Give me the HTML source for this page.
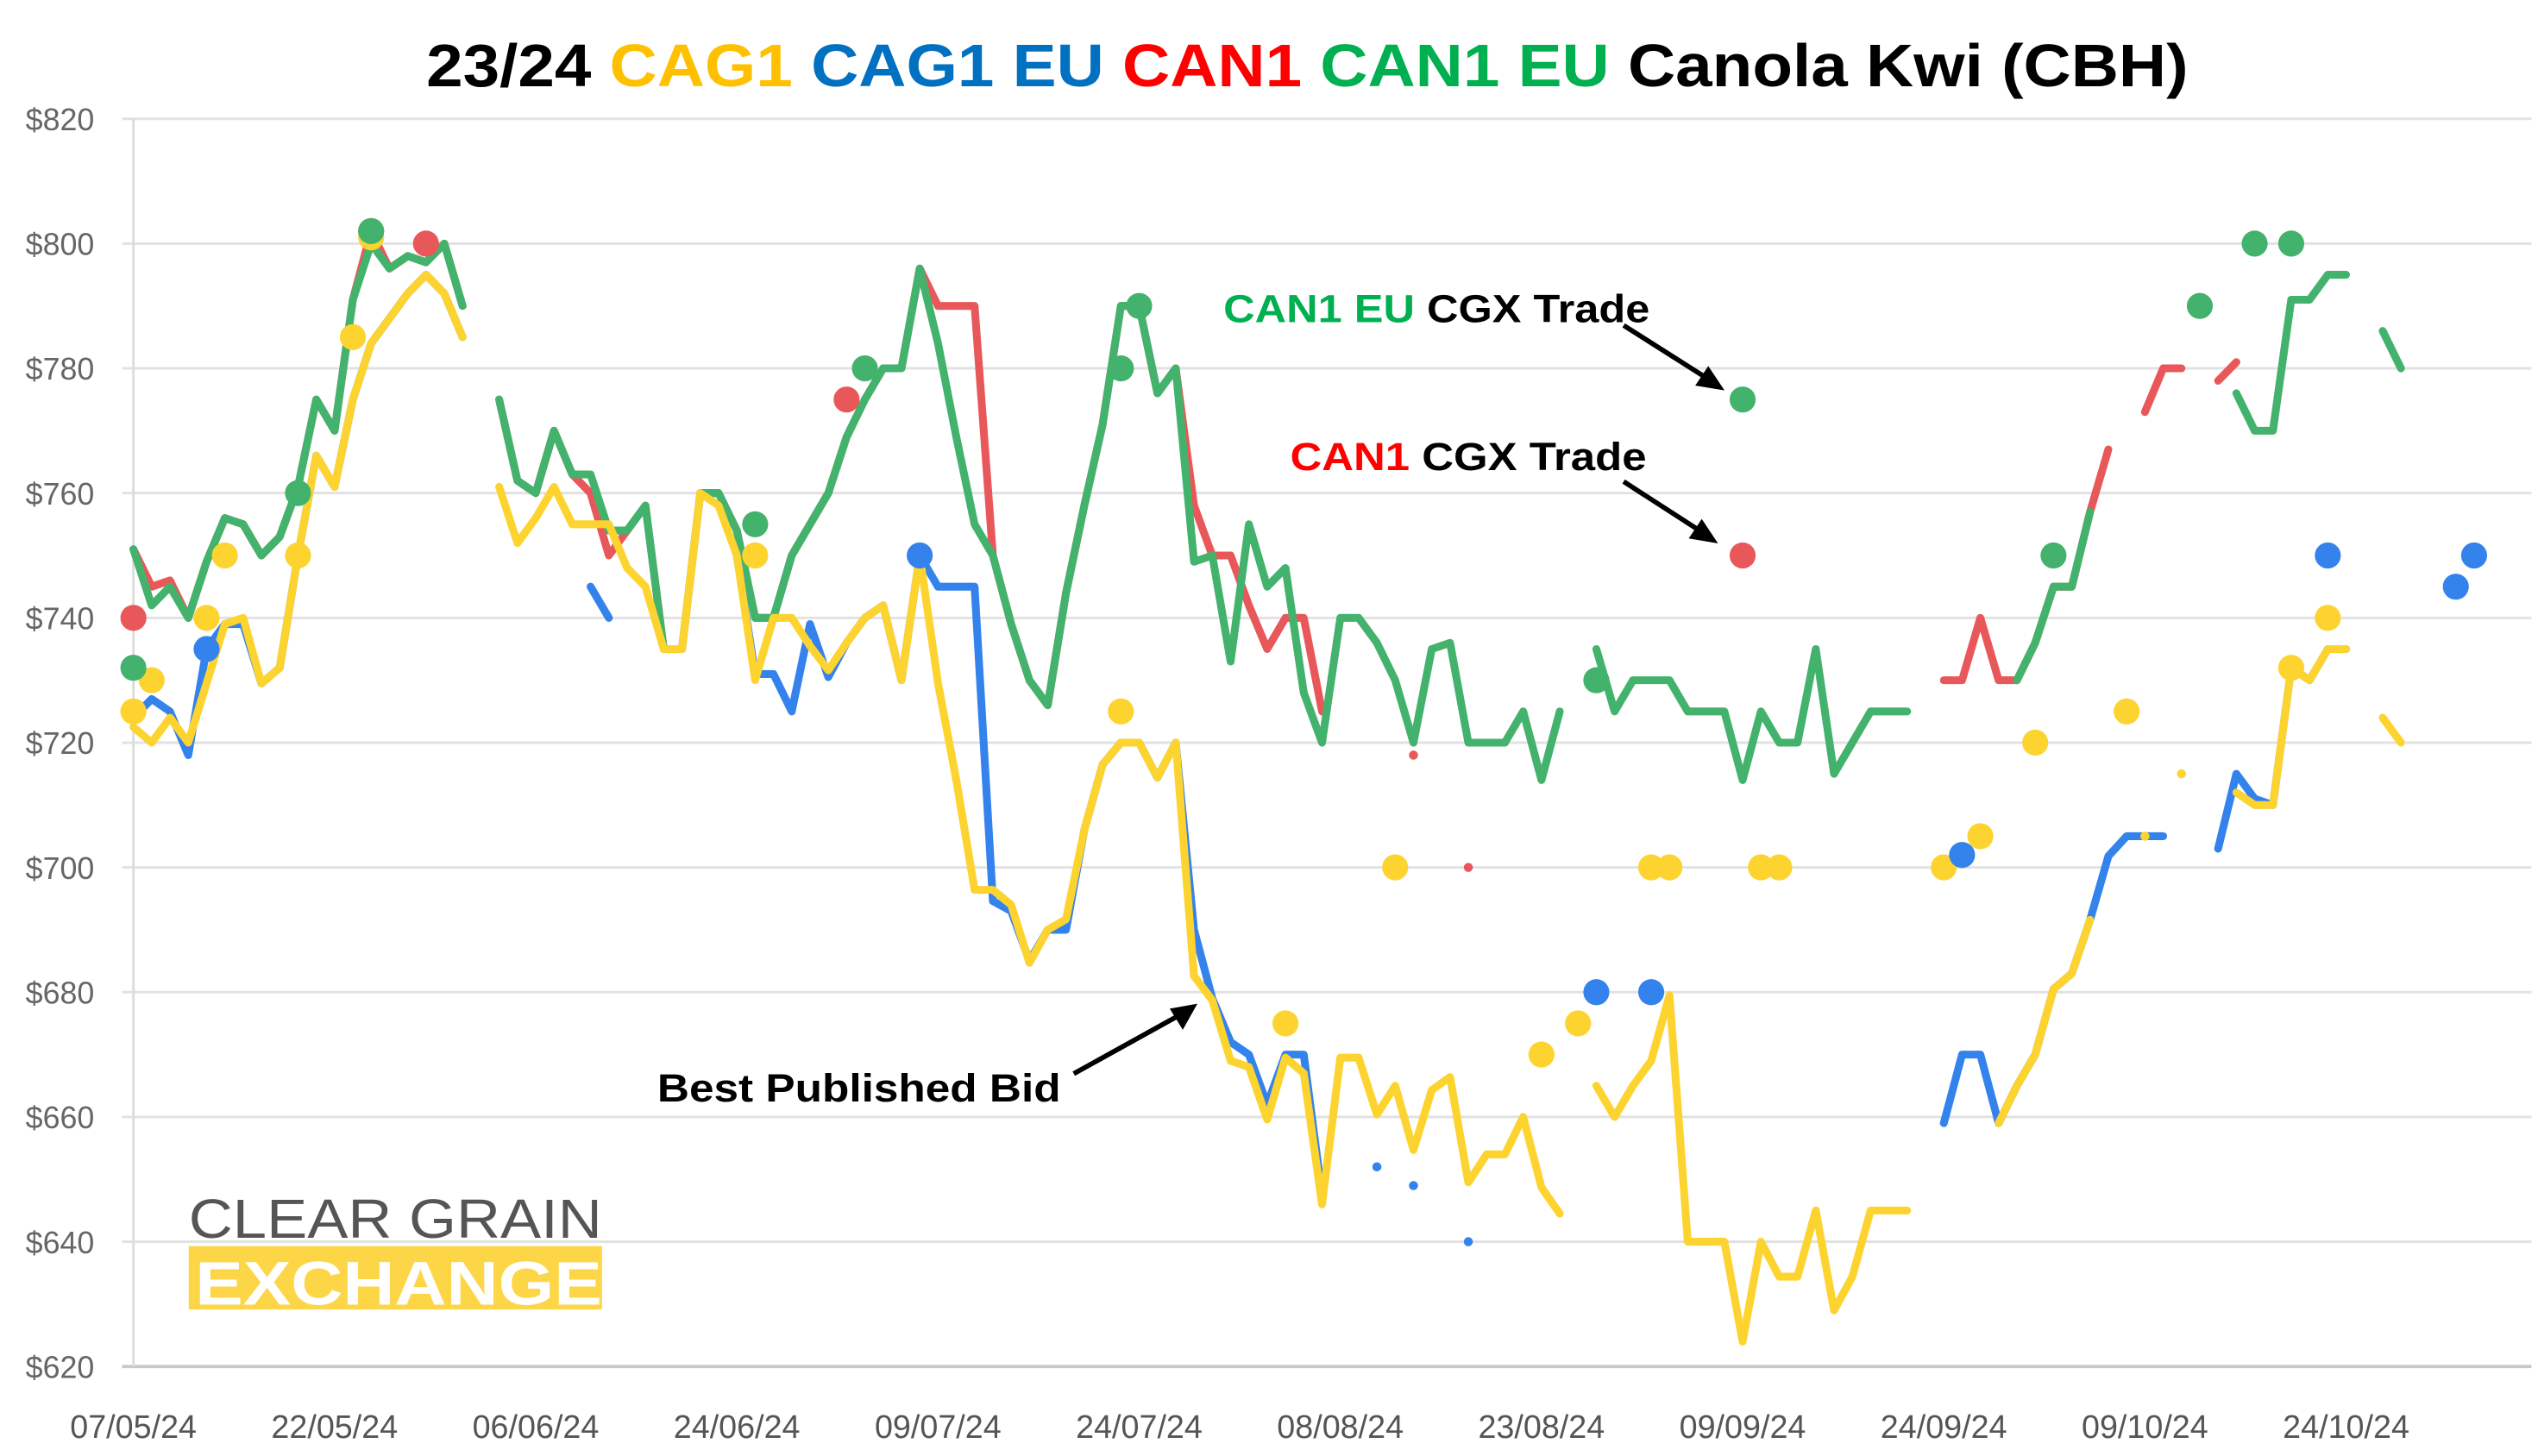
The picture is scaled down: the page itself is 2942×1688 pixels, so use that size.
<!DOCTYPE html>
<html><head><meta charset="utf-8">
<style>
html,body{margin:0;padding:0;background:#fff;}
svg{display:block;}
</style></head>
<body>
<svg id="chart" xmlns="http://www.w3.org/2000/svg" width="2942" height="1688" viewBox="0 0 1560 895" font-family="'Liberation Sans', sans-serif">
<rect x="0" y="0" width="1560" height="895" fill="#fff"/>
<text x="262" y="53" font-size="37" font-weight="bold" textLength="1083" lengthAdjust="spacingAndGlyphs"><tspan fill="#000">23/24 </tspan><tspan fill="#ffc000">CAG1 </tspan><tspan fill="#0070c0">CAG1 EU </tspan><tspan fill="#ff0000">CAN1 </tspan><tspan fill="#00b050">CAN1 EU </tspan><tspan fill="#000">Canola Kwi (CBH)</tspan></text>
<g id="grid"></g>
<g id="xlabels"></g>
<g id="lines"></g>
<g id="dots"></g>
<g>
<text x="752" y="198" font-size="24" font-weight="bold" textLength="262" lengthAdjust="spacingAndGlyphs"><tspan fill="#00b050">CAN1 EU </tspan><tspan fill="#000">CGX Trade</tspan></text>
<line x1="998" y1="200" x2="1050" y2="233" stroke="#000" stroke-width="3"/>
<polygon points="1060,240 1042,237 1050,225" fill="#000"/>
</g>
<g>
<text x="793" y="289" font-size="24" font-weight="bold" textLength="219" lengthAdjust="spacingAndGlyphs"><tspan fill="#ff0000">CAN1 </tspan><tspan fill="#000">CGX Trade</tspan></text>
<line x1="998" y1="296" x2="1046" y2="327" stroke="#000" stroke-width="3"/>
<polygon points="1056,334 1038,331 1046,319" fill="#000"/>
</g>
<g>
<text x="404" y="677" font-size="24" font-weight="bold" fill="#000" textLength="248" lengthAdjust="spacingAndGlyphs">Best Published Bid</text>
<line x1="660" y1="660" x2="725" y2="624" stroke="#000" stroke-width="3"/>
<polygon points="736,617 727,633 719,620" fill="#000"/>
</g>
<g>
<text x="116" y="761" font-size="34" fill="#555" textLength="254" lengthAdjust="spacingAndGlyphs">CLEAR GRAIN</text>
<rect x="116" y="766" width="254" height="39" fill="#fdd648"/>
<text x="120" y="802" font-size="38" font-weight="bold" fill="#fff" textLength="250" lengthAdjust="spacingAndGlyphs">EXCHANGE</text>
</g>
</svg>
<script>
const yTicks = [620, 640, 660, 680, 700, 720, 740, 760, 780, 800, 820];
const dateLabels = ["07/05/24","22/05/24","06/06/24","24/06/24","09/07/24","24/07/24","08/08/24","23/08/24","09/09/24","24/09/24","09/10/24","24/10/24"];
const dateIdx = [0, 11, 22, 33, 44, 55, 66, 77, 88, 99, 110, 121];
const _ = null;
const can1eu = [751,742,745,740,749,756,755,750,753,761,775,770,791,800,796,798,797,800,790,_,775,762,760,770,763,763,754,754,758,735,735,760,760,754,740,740,750,755,760,769,775,780,780,796,784,769,755,750,739,730,726,744,758,771,790,790,776,780,749,750,733,755,745,748,728,720,740,740,736,730,720,735,736,720,720,720,725,714,725,_,735,725,730,730,730,725,725,725,714,725,720,720,735,715,720,725,725,725,_,_,_,_,_,730,736,745,745,757,_,_,_,_,_,_,_,776,770,770,791,791,795,795,_,786,780,_,_,_,_];
const can1 = [751,745,746,740,749,756,755,750,753,761,775,770,791,802,796,798,797,800,790,_,775,762,760,770,763,760,750,754,758,735,735,760,760,754,740,740,750,755,760,769,775,780,780,796,790,790,790,750,739,730,726,744,758,771,790,790,776,780,758,750,750,742,735,740,740,725,_,_,_,_,718,_,_,700,_,_,_,_,_,_,_,_,_,_,_,_,_,_,_,_,_,_,_,_,_,_,_,_,_,730,730,740,730,730,736,745,745,757,767,_,773,780,780,_,778,781,_,_,_,_,_,_,_,_,_,_,_,_,_];
const cag1eu = [724,727,725,718,735,739,739,729.5,732,750,766,761,775,784,788,792,795,792,785,_,_,_,_,_,_,745,740,_,_,_,_,_,_,750,731,731,725,739,730.5,736,740,742,730,750,745,745,745,694.6,693,685,690,690,706,716.5,720,720,714.4,720,690,679,672,670,662,670,670,647.5,_,_,652,_,649,_,_,640,_,_,_,_,_,_,_,_,_,_,_,_,_,_,_,_,_,_,_,_,_,_,_,_,_,659,670,670,659,665,670,680.5,683,691.6,701.8,705,705,705,_,_,703,715,711,710,732,730,735,735,_,_,_,_,_,_,_];
const cag1 = [722.5,720,724,720,729.5,739,740,729.5,732,750,766,761,775,784,788,792,795,792,785,_,761,752,756,761,755,755,755,748,745,735,735,760,758,750,730,740,740,735.5,731.6,736,740,742,730,750,729.5,714,696.4,696.4,694,684.7,690,691.7,706,716.5,720,720,714.4,720,682.6,678.7,669,668,659.6,669.5,667,646,669.5,669.5,660.4,665,654.7,664.3,666.4,649.5,654,654,660,648.7,644.5,_,665,660,665,669,679.5,640,640,640,624,640,634.4,634.4,645,629,634.4,645,645,645,_,_,_,_,659,665,670,680.5,683,691.6,_,_,705,_,715,_,_,712,710,710,732,730,735,735,_,724,720,_,_,_,_];
const greenTradeIdx = [0,9,13,34,40,54,55,80,88,105,113,116,118];
const greenTradeVal = [732,760,802,755,780,780,790,730,775,750,790,800,800];
const redTradeIdx = [0,13,16,39,88];
const redTradeVal = [740,802,800,775,750];
const blueTradeIdx = [4,43,80,83,100,120,127,128];
const blueTradeVal = [735,750,680,680,702,750,745,750];
const yellowTradeIdx = [0,1,4,5,9,12,13,34,54,63,69,77,79,83,84,89,90,99,101,104,109,118,120];
const yellowTradeVal = [725,730,740,750,750,785,801,750,725,675,700,670,675,700,700,700,700,700,705,720,725,732,740];

const NS = "http://www.w3.org/2000/svg";
const X0 = 82, XSTEP = 11.24, YTOP = 73, YBOT = 840, VMIN = 620, VMAX = 820;
function xs(i){ return X0 + i * XSTEP; }
function ys(v){ return YBOT - (v - VMIN) / (VMAX - VMIN) * (YBOT - YTOP); }
function mk(tag, attrs, parent){
  const e = document.createElementNS(NS, tag);
  for (const k in attrs) e.setAttribute(k, attrs[k]);
  parent.appendChild(e); return e;
}
const grid = document.getElementById('grid');
yTicks.forEach(function(t){
  const y = ys(t);
  const gl = mk('line', {x1:75, x2:1556, y1:y, y2:y, stroke: t===620 ? '#c8c8c8' : '#e2e2e2', 'stroke-width': t===620 ? 2 : 1.6}, grid);
  
  
  const tl = mk('text', {x:58, y:y+7, 'text-anchor':'end', 'font-size':19, fill:'#666'}, grid);
  tl.textContent = '$' + t;
  
  
});
const ax = mk('line', {x1:82, x2:82, y1:YTOP, y2:YBOT, stroke:'#dcdcdc', 'stroke-width':1.5}, grid);


const xl = document.getElementById('xlabels');
dateLabels.forEach(function(d, k){
  const t = mk('text', {x:xs(dateIdx[k]), y:884, 'text-anchor':'middle', 'font-size':20, fill:'#555'}, xl);
  t.textContent = d;
  
  
});
const linesG = document.getElementById('lines');
function drawSeries(arr, color, name){
  const g = mk('g', {}, linesG);
  
  
  let d = '';
  for (let i = 0; i < arr.length; i++){
    if (arr[i] === null) continue;
    const prev = i > 0 && arr[i-1] !== null;
    const next = i < arr.length-1 && arr[i+1] !== null;
    if (!prev){ d += 'M' + xs(i) + ' ' + ys(arr[i]) + ' '; }
    else { d += 'L' + xs(i) + ' ' + ys(arr[i]) + ' '; }
    if (!prev && !next){
      const c = mk('circle', {cx:xs(i), cy:ys(arr[i]), r:2.8, fill:color}, g);
      
      
    }
  }
  mk('path', {d:d, fill:'none', stroke:color, 'stroke-width':4.8, 'stroke-linejoin':'round', 'stroke-linecap':'round'}, g);
}
const RED = '#e8585a', GREEN = '#43b26c', BLUE = '#3482ec', YELLOW = '#fdd330';
drawSeries(can1, RED, 'can1');
drawSeries(can1eu, GREEN, 'can1-eu');
drawSeries(cag1eu, BLUE, 'cag1-eu');
drawSeries(cag1, YELLOW, 'cag1');
const dotsG = document.getElementById('dots');
function drawTrades(idx, vals, color, name){
  idx.forEach(function(i, k){
    const c = mk('circle', {cx:xs(i), cy:ys(vals[k]), r:8, fill:color}, dotsG);
    
    
  });
}
drawTrades(redTradeIdx, redTradeVal, RED, 'can1');
drawTrades(yellowTradeIdx, yellowTradeVal, YELLOW, 'cag1');
drawTrades(blueTradeIdx, blueTradeVal, BLUE, 'cag1-eu');
drawTrades(greenTradeIdx, greenTradeVal, GREEN, 'can1-eu');
</script>
</body></html>
